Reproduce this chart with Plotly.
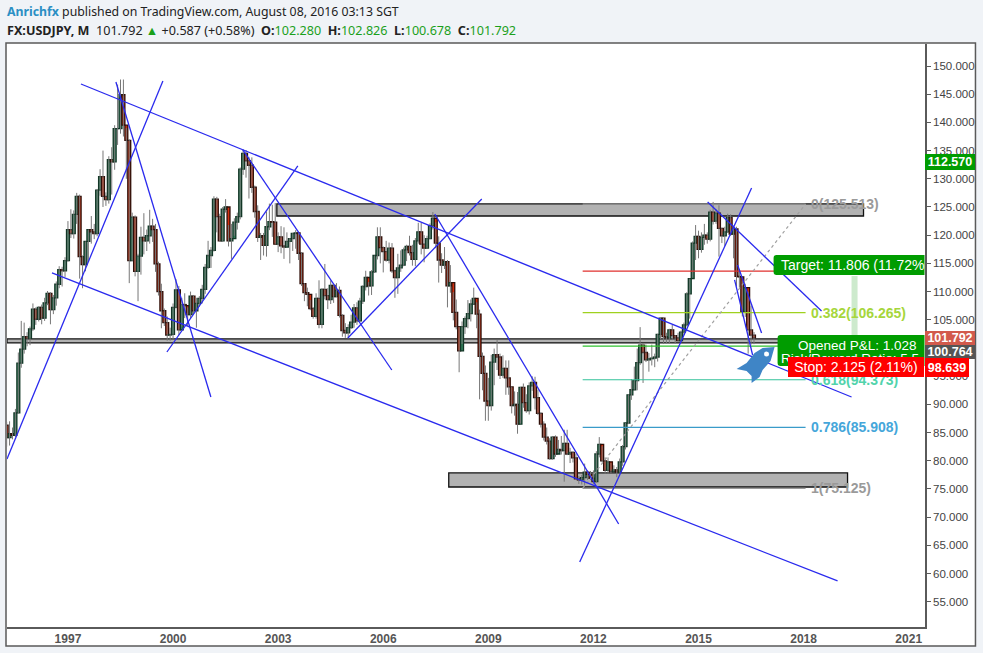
import plotly.graph_objects as go

# chart frame on the page, in pixels
W, H = 983, 653
LEFT, RIGHT, TOP, BOTTOM = 7, 925.5, 44, 627

# monthly USDJPY candles, Apr 1995 to Aug 2016
start_year = 1995.25
first_open = 86.3
closes = [
    84.1, 84.8, 84.5, 88.5, 97.3, 99.8, 102.0, 101.7, 103.4,
    106.9, 105.1, 107.2, 105.3, 108.0, 109.7, 106.8, 108.9, 111.3, 113.9, 113.7, 115.5,
    121.0, 120.3, 123.7, 126.9, 116.2, 114.8, 118.9, 121.0, 120.6, 120.3, 128.0, 130.4,
    126.9, 126.3, 133.4, 133.0, 138.9, 138.9, 144.9, 139.5, 136.8, 115.5, 123.2, 113.6,
    116.3, 119.6, 119.0, 119.9, 121.6, 121.0, 114.9, 110.0, 106.6, 104.5, 102.3, 102.4,
    107.2, 110.3, 103.2, 107.7, 107.5, 105.9, 109.2, 106.6, 107.9, 108.8, 110.4, 114.3,
    116.4, 117.3, 126.4, 123.3, 119.0, 124.6, 125.0, 119.0, 119.4, 122.3, 123.3, 131.7,
    134.5, 133.2, 132.4, 128.5, 124.2, 119.6, 119.9, 118.2, 121.5, 122.4, 122.3, 118.4,
    119.7, 118.1, 117.9, 118.9, 119.4, 120.3, 120.4, 116.8, 111.4, 109.8, 109.5, 107.0,
    105.6, 108.8, 104.2, 110.4, 109.3, 108.6, 111.1, 109.1, 110.2, 105.8, 103.1, 102.7,
    103.6, 104.6, 107.1, 104.8, 108.3, 110.9, 112.5, 111.0, 113.5, 116.4, 119.7, 117.8,
    117.1, 115.6, 117.7, 113.7, 112.5, 114.2, 114.7, 117.4, 118.0, 116.9, 115.7, 119.0,
    120.6, 118.4, 117.7, 119.4, 121.7, 123.0, 118.6, 115.6, 114.7, 115.3, 111.0, 111.6,
    106.3, 103.8, 99.5, 103.8, 105.2, 106.1, 107.8, 108.8, 106.0, 98.5, 95.5, 90.6,
    89.8, 97.5, 98.8, 98.4, 95.2, 96.4, 94.7, 93.1, 89.8, 90.0, 86.5, 93.0,
    90.3, 88.9, 93.3, 93.9, 91.2, 88.4, 86.5, 84.2, 83.5, 80.4, 84.2, 81.2,
    82.0, 81.8, 83.1, 81.2, 81.5, 80.5, 76.8, 76.6, 77.0, 78.0, 77.6, 76.9,
    76.3, 81.2, 82.9, 80.0, 78.3, 79.8, 78.1, 78.4, 78.0, 79.8, 82.5, 86.7,
    91.7, 92.6, 94.2, 97.4, 100.5, 99.2, 97.9, 98.1, 98.2, 98.4, 102.4, 105.3,
    102.0, 101.8, 103.2, 102.2, 101.8, 101.3, 102.8, 104.1, 109.6, 112.3, 118.6, 119.8,
    117.5, 119.6, 120.0, 119.3, 124.1, 122.5, 123.9, 121.2, 119.9, 120.6, 123.1, 120.2,
    121.1, 112.7, 112.6, 106.4, 110.7, 103.2, 102.28, 101.792,
]
highs = [
    86.9, 87.0, 85.9, 89.2, 99.2, 104.8, 104.5, 102.8, 103.8,
    107.9, 107.2, 107.4, 107.7, 108.9, 110.1, 109.9, 109.4, 111.8, 114.5, 114.4, 116.1,
    122.5, 124.6, 124.4, 127.5, 127.2, 116.4, 118.9, 121.0, 123.4, 122.0, 128.2, 131.7,
    135.0, 127.6, 134.0, 135.6, 139.5, 146.7, 147.6, 147.6, 139.0, 137.0, 124.0, 123.5,
    116.7, 121.5, 123.9, 121.0, 124.5, 122.9, 122.0, 115.3, 111.4, 107.0, 105.6, 103.6,
    107.9, 112.2, 111.0, 108.9, 109.7, 107.2, 110.0, 109.4, 108.9, 109.2, 111.2, 114.9,
    119.0, 117.9, 126.9, 126.8, 123.8, 125.0, 126.4, 121.8, 122.0, 123.0, 124.0, 132.0,
    135.2, 135.1, 133.9, 133.8, 128.8, 125.3, 120.4, 120.4, 124.2, 125.6, 125.4, 125.7,
    120.5, 121.6, 121.4, 120.5, 119.5, 120.4, 120.9, 120.4, 117.0, 111.5, 110.7, 108.5,
    107.2, 109.7, 112.0, 110.6, 114.9, 110.6, 112.0, 111.2, 111.5, 110.9, 106.0, 104.4,
    104.2, 105.9, 107.8, 108.1, 108.9, 111.1, 113.7, 111.7, 113.8, 116.4, 121.4, 121.4,
    118.0, 119.0, 118.7, 118.6, 113.9, 116.7, 117.3, 117.8, 118.3, 119.9, 118.3, 119.5,
    122.2, 122.2, 120.0, 119.9, 122.1, 124.1, 122.3, 119.8, 116.8, 117.9, 115.6, 114.7,
    109.9, 108.6, 103.8, 104.7, 105.6, 108.5, 108.6, 110.7, 108.1, 106.8, 99.2, 96.9,
    94.7, 98.8, 99.9, 101.4, 99.0, 98.7, 97.8, 97.8, 93.2, 92.3, 92.2, 93.1,
    93.7, 91.8, 93.9, 95.0, 94.9, 92.6, 88.6, 87.0, 85.9, 84.0, 84.4, 84.5,
    83.7, 84.4, 85.5, 85.5, 82.3, 81.7, 81.3, 77.3, 77.5, 79.5, 78.3, 78.2,
    78.3, 81.7, 84.2, 82.6, 80.6, 80.6, 79.6, 79.2, 78.9, 80.4, 82.8, 86.7,
    91.8, 94.5, 96.7, 99.9, 103.7, 100.9, 100.6, 99.1, 100.6, 99.0, 102.5, 105.4,
    105.4, 102.7, 103.4, 104.1, 102.3, 102.7, 103.1, 104.5, 109.9, 112.3, 118.9, 121.8,
    120.8, 120.5, 122.0, 120.5, 124.5, 125.9, 124.6, 125.3, 121.3, 121.5, 123.8, 123.7,
    121.7, 121.5, 114.0, 112.0, 111.4, 110.0, 107.5, 102.826,
]
lows = [
    82.5, 82.7, 83.8, 84.2, 88.4, 96.5, 99.0, 100.3, 100.5,
    103.0, 104.1, 104.7, 104.2, 104.8, 107.6, 104.2, 106.0, 107.5, 110.6, 110.9, 112.6,
    115.3, 119.5, 119.4, 122.0, 112.3, 110.6, 113.6, 115.3, 118.5, 119.3, 119.8, 127.0,
    125.0, 125.2, 125.6, 127.2, 131.6, 136.0, 138.0, 137.5, 130.0, 111.5, 115.4, 112.7,
    108.3, 113.0, 116.6, 117.2, 118.5, 118.8, 113.5, 109.3, 103.5, 103.9, 101.3, 101.3,
    101.5, 107.0, 102.3, 103.8, 105.3, 103.9, 105.3, 105.9, 103.6, 107.3, 107.9, 109.6,
    114.0, 114.2, 117.1, 120.5, 118.9, 118.8, 124.0, 118.0, 115.8, 119.9, 121.0, 122.8,
    130.7, 130.2, 126.5, 127.5, 123.1, 118.8, 115.6, 116.4, 116.2, 120.9, 119.7, 118.4,
    117.0, 116.8, 115.8, 118.0, 115.0, 117.2, 117.6, 115.6, 111.0, 108.3, 107.4, 106.7,
    105.2, 105.2, 103.5, 103.5, 108.6, 106.9, 107.8, 108.0, 109.0, 105.4, 102.0, 101.8,
    101.7, 103.4, 103.6, 104.1, 104.6, 107.8, 110.2, 109.3, 109.4, 113.3, 115.7, 115.0,
    113.4, 115.3, 115.0, 113.3, 108.9, 109.6, 113.5, 114.5, 115.4, 116.4, 114.6, 114.5,
    118.5, 116.6, 115.2, 117.6, 119.3, 121.0, 117.7, 111.6, 113.3, 114.0, 107.2, 109.8,
    104.9, 103.3, 95.7, 100.7, 102.5, 103.5, 104.7, 107.8, 103.5, 90.9, 92.5, 87.1,
    87.1, 88.9, 93.4, 96.1, 94.5, 94.7, 91.7, 91.7, 88.4, 88.0, 84.8, 86.6,
    89.4, 88.5, 88.2, 92.4, 89.1, 88.1, 85.9, 83.6, 82.9, 80.2, 80.2, 80.7,
    81.4, 81.1, 76.3, 81.0, 79.6, 79.7, 76.6, 75.9, 75.8, 75.6, 76.6, 76.6,
    75.9, 76.1, 80.6, 79.7, 77.7, 77.7, 77.8, 78.1, 77.1, 77.9, 79.1, 82.0,
    86.5, 90.8, 92.6, 92.5, 97.0, 93.8, 97.5, 95.8, 96.9, 96.6, 97.6, 101.6,
    100.7, 100.8, 100.8, 101.4, 100.8, 101.2, 101.0, 102.3, 103.8, 105.2, 112.5, 115.6,
    115.9, 116.9, 118.3, 118.5, 118.9, 121.9, 122.0, 116.2, 118.6, 118.1, 120.4, 119.9,
    115.9, 110.9, 110.7, 105.6, 105.5, 99.0, 100.6, 100.678,
]

year_ticks = [1997, 2000, 2003, 2006, 2009, 2012, 2015, 2018, 2021]
price_ticks = [55, 60, 65, 70, 75, 80, 85, 90, 95, 100, 105, 110, 115, 120, 125, 130, 135, 140, 145, 150]

# drawn trend lines as (year, price) end points
trend_lines = [
    [(1997.371, 146.81), (2019.368, 91.31)],
    [(1996.544, 113.30), (2018.969, 58.69)],
    [(1995.26, 80.32), (1999.710, 147.34)],
    [(1998.369, 147.16), (2001.08, 91.31)],
    [(1999.825, 99.29), (2003.562, 132.27)],
    [(2001.993, 135.11), (2006.244, 96.10)],
    [(2004.989, 101.77), (2008.812, 126.42)],
    [(2007.471, 123.76), (2012.72, 68.79)],
    [(2011.608, 62.06), (2016.515, 128.37)],
    [(2015.26, 125.89), (2018.512, 106.56)],
    [(2016.116, 114.72), (2016.80, 102.66)],
    [(2016.03, 112.06), (2016.544, 98.76)],
]

# fibonacci retracement, the 0.236 and 0.5 labels are hidden behind the position boxes
fib_start, fib_end = 2011.693, 2018.056
fib_ratios = ["0", "0.236", "0.382", "0.5", "0.618", "0.786", "1"]
fib_prices = [125.513, 113.619, 106.265, 100.319, 94.373, 85.908, 75.125]
fib_colors = ["#9a9a9a", "#e0312e", "#9fd11f", "#2fc22f", "#33c29a", "#3a9bc9", "#9a9a9a"]
fib_label_colors = ["#9a9a9a", None, "#a6d63c", None, "#52d3ab", "#45a6da", "#9a9a9a"]

# grey support / resistance zones: x0, x1, top, bottom
zones = [
    (2002.963, 2019.71, 125.55, 123.4),
    (2007.87, 2019.254, 77.84, 75.35),
    (1995.26, 2017.457, 101.6, 100.9),
]


def px_x(x):
    return (x - LEFT) / (RIGHT - LEFT)


def px_y(y):
    return (BOTTOM - y) / (BOTTOM - TOP)


def rounded_box(l, t, r, b, rad=3):
    return (
        f"M {px_x(r)} {px_y(t)} L {px_x(l + rad)} {px_y(t)} "
        f"Q {px_x(l)} {px_y(t)} {px_x(l)} {px_y(t + rad)} "
        f"L {px_x(l)} {px_y(b - rad)} Q {px_x(l)} {px_y(b)} {px_x(l + rad)} {px_y(b)} "
        f"L {px_x(r)} {px_y(b)} Z"
    )


years = [start_year + i / 12 for i in range(len(closes))]
opens = [first_open] + closes[:-1]

wick_x, wick_y = [], []
for x, hi, lo in zip(years, highs, lows):
    wick_x += [x, x, None]
    wick_y += [lo, hi, None]

fig = go.Figure()

fig.add_trace(go.Scatter(x=wick_x, y=wick_y, mode="lines", line=dict(color="#777777", width=1), hoverinfo="skip"))

fill_colors = ["#33805c" if c >= o else "#d2300f" for o, c in zip(opens, closes)]
edge_colors = ["#123626" if c >= o else "#2e0e08" for o, c in zip(opens, closes)]
fig.add_trace(go.Bar(
    x=years,
    y=[abs(c - o) for o, c in zip(opens, closes)],
    base=[min(o, c) for o, c in zip(opens, closes)],
    width=0.083,
    marker=dict(color=fill_colors, line=dict(color=edge_colors, width=1.3)),
))

for level, color in zip(fib_prices, fib_colors):
    fig.add_trace(go.Scatter(x=[fib_start, fib_end], y=[level, level], mode="lines", line=dict(color=color, width=1.2)))

fig.add_trace(go.Scatter(
    x=[fib_start, fib_end], y=[fib_prices[-1], fib_prices[0]], mode="lines",
    line=dict(color="#a0a0a0", width=1.2, dash="3px,3px"),
))

for line in trend_lines:
    fig.add_trace(go.Scatter(
        x=[p[0] for p in line], y=[p[1] for p in line], mode="lines",
        line=dict(color="#2a2aee", width=1.3),
    ))

# white chart panel behind everything
shapes = [dict(
    type="rect", xref="paper", yref="paper", layer="below",
    x0=px_x(6), x1=px_x(976), y0=px_y(646), y1=px_y(43),
    fillcolor="white", line=dict(color="#5a5a5a", width=1.5),
)]
for x0, x1, top, bottom in zones:
    shapes.append(dict(
        type="rect", layer="below", x0=x0, x1=x1, y0=bottom, y1=top,
        fillcolor="#b2b2b2", line=dict(color="#111111", width=1.3),
    ))
# risk/reward bar
shapes.append(dict(
    type="rect", layer="below", x0=2019.368, x1=2019.54, y0=102.3, y1=112.77,
    fillcolor="#cdeacd", line=dict(width=0),
))
# position boxes
shapes.append(dict(type="path", xref="paper", yref="paper", path=rounded_box(774, 255, 925, 275), fillcolor="#009c00", line=dict(width=0)))
shapes.append(dict(type="path", xref="paper", yref="paper", path=rounded_box(778, 335, 925, 366), fillcolor="#009c00", line=dict(width=0)))

# rocket icon
rocket = [(775, 347), (763, 348), (755, 353), (747, 363), (737, 369), (747, 371), (752, 376), (752, 383), (760, 377), (763, 370), (771, 361)]
rocket_path = "M " + " L ".join(f"{px_x(a)} {px_y(b)}" for a, b in rocket) + " Z"
shapes.append(dict(type="path", xref="paper", yref="paper", path=rocket_path, fillcolor="#3f85c6", line=dict(width=0)))
shapes.append(dict(
    type="circle", xref="paper", yref="paper",
    x0=px_x(764.5), x1=px_x(769.5), y0=px_y(356.5), y1=px_y(351.5),
    fillcolor="white", line=dict(width=0),
))

annotations = []


def add_text(text, x, y, size, color, anchor="left", family="Liberation Sans", **kw):
    annotations.append(dict(
        text=text, xref="paper", yref="paper", x=px_x(x), y=px_y(y),
        xanchor=anchor, yanchor="middle", showarrow=False,
        font=dict(size=size, color=color, family=family), **kw,
    ))


def add_tag(text, l, t, r, b, bg, size=12.5, bold=True):
    annotations.append(dict(
        text=f"<b>{text}</b>" if bold else text,
        xref="paper", yref="paper", x=px_x((l + r) / 2), y=px_y((t + b) / 2),
        xanchor="center", yanchor="middle", showarrow=False,
        width=r - l, height=b - t, bgcolor=bg, borderpad=0, borderwidth=0,
        font=dict(size=size, color="white", family="Liberation Sans"),
    ))


# header lines
green = "#1ba01b"
add_text(
    '<span style="color:#2a8fc4"><b>Anrichfx</b></span> published on TradingView.com, August 08, 2016 03:13 SGT',
    5, 12, 12.3, "#222222", family="Noto Sans",
)
add_text(
    f'<b>FX:USDJPY, M</b>  101.792 <span style="color:{green}">▲</span> +0.587 (+0.58%)  '
    f'<b>O:</b><span style="color:{green}">102.280</span>  <b>H:</b><span style="color:{green}">102.826</span>  '
    f'<b>L:</b><span style="color:{green}">100.678</span>  <b>C:</b><span style="color:{green}">101.792</span>',
    5, 30, 12.6, "#222222", family="Noto Sans",
)

for ratio, level, color in zip(fib_ratios, fib_prices, fib_label_colors):
    if color is None:
        continue
    annotations.append(dict(
        text=f"<b>{ratio}({level:.3f})</b>", x=2018.14, y=level, xanchor="left", yanchor="middle",
        showarrow=False, font=dict(size=14, color=color, family="Liberation Sans"),
    ))

# position texts, Stop goes last so it hides the bottom of the Risk/Reward line
add_text("Target: 11.806 (11.72%", 779, 265, 14, "white")
add_text("Opened P&amp;L: 1.028", 858, 345, 13.5, "white", anchor="center")
add_text("Risk/Reward Ratio: 5.5", 850, 358, 13.5, "white", anchor="center")
add_tag("Stop: 2.125 (2.11%)", 788, 357, 924, 377, "#ff0000", size=14, bold=False)

# price tags on the axis
add_tag("112.570", 926, 154, 976, 170, "#009c00")
add_tag("101.792", 926, 331, 976, 345, "#d25a4c")
add_tag("100.764", 926, 345, 976, 359, "#555555")
add_tag("98.639", 926, 358, 970, 377, "#ff0000")

fig.update_layout(
    width=W, height=H,
    margin=dict(l=LEFT, r=W - RIGHT, t=TOP, b=H - BOTTOM, pad=0),
    paper_bgcolor="#f0f3f7",
    plot_bgcolor="rgba(0,0,0,0)",
    showlegend=False,
    barmode="overlay",
    shapes=shapes,
    annotations=annotations,
    xaxis=dict(
        range=[1995.26, 2021.465],
        tickmode="array", tickvals=year_ticks, ticktext=[f"<b>{y}</b>" for y in year_ticks],
        showgrid=False, zeroline=False, ticks="",
        showline=True, linecolor="#5a5a5a", linewidth=1.5,
        tickfont=dict(size=12, color="#555555", family="Liberation Sans"),
    ),
    yaxis=dict(
        range=[50.53, 153.9], side="right",
        tickmode="array", tickvals=price_ticks, ticktext=[f"{p:.3f}" for p in price_ticks],
        showgrid=False, zeroline=False, ticks="outside", ticklen=4, tickcolor="#5a5a5a",
        showline=True, linecolor="#5a5a5a", linewidth=1.5,
        tickfont=dict(size=11.5, color="#444444", family="Liberation Sans"),
    ),
)

fig.write_html("out.html", config={"displayModeBar": False}, post_script="document.body.style.margin='0';")
